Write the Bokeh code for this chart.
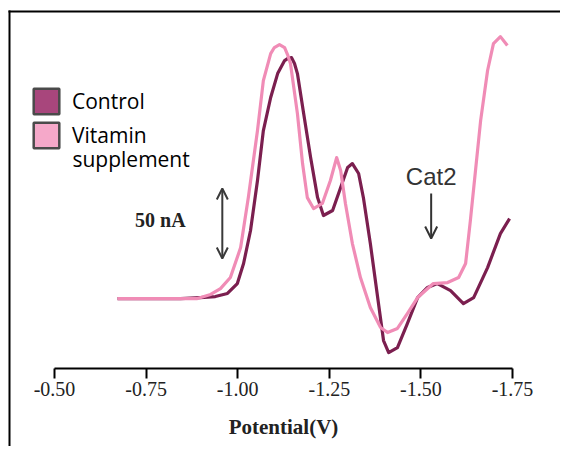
from bokeh.plotting import figure
from bokeh.models import (Range1d, LinearAxis, FixedTicker, PrintfTickFormatter,
                          Legend, LegendItem, Arrow, OpenHead, ColumnDataSource,
                          BoxAnnotation, Label)
from bokeh.core.properties import value
from bokeh.embed import file_html
from bokeh.resources import INLINE

# ---- data (potential in V, current in nA, baseline = 0) ----
control_v = [-0.672, -0.762, -0.844, -0.898, -0.939, -0.972, -0.999, -1.016, -1.035,
             -1.054, -1.070, -1.090, -1.109, -1.128, -1.136, -1.147, -1.155, -1.163,
             -1.180, -1.199, -1.218, -1.234, -1.259, -1.281, -1.300, -1.313, -1.330,
             -1.343, -1.362, -1.382, -1.398, -1.412, -1.436, -1.463, -1.491, -1.518,
             -1.545, -1.581, -1.616, -1.644, -1.682, -1.717, -1.742]
control_i = [0.0, 0.0, 0.0, 0.7, 1.4, 3.6, 10.7, 25.0, 48.6,
             84.3, 120.0, 143.6, 160.7, 170.0, 171.4, 172.1, 167.9, 160.7,
             132.1, 100.7, 72.1, 59.3, 62.9, 79.3, 93.6, 96.4, 89.3,
             72.1, 39.3, 0.7, -30.0, -38.6, -35.0, -17.9, 0.7, 7.9,
             10.7, 5.7, -3.6, 0.7, 22.1, 46.4, 57.1]

vitamin_v = [-0.672, -0.762, -0.844, -0.890, -0.926, -0.953, -0.980, -1.008, -1.029,
             -1.054, -1.070, -1.090, -1.100, -1.114, -1.128, -1.136, -1.144, -1.163,
             -1.177, -1.190, -1.207, -1.231, -1.253, -1.270, -1.281, -1.294, -1.313,
             -1.335, -1.362, -1.390, -1.409, -1.436, -1.463, -1.491, -1.534, -1.573,
             -1.603, -1.622, -1.635, -1.649, -1.663, -1.682, -1.698, -1.717, -1.736]
vitamin_i = [0.0, 0.0, 0.0, 0.0, 2.9, 7.1, 15.0, 36.4, 72.1,
             120.0, 155.7, 175.0, 179.3, 181.4, 179.3, 174.3, 167.9, 132.1,
             96.4, 72.1, 64.3, 67.9, 84.3, 100.7, 91.4, 67.9, 39.3,
             15.0, -6.4, -20.7, -24.3, -21.4, -10.7, 0.7, 10.7, 11.4,
             15.0, 25.0, 55.7, 91.4, 127.1, 162.9, 182.1, 187.1, 180.7]

tick_values = [-0.50, -0.75, -1.00, -1.25, -1.50, -1.75]
series_names = ["Control", "Vitamin", "supplement"]
scale_bar_x = -0.958
scale_bar_i = [28.6, 78.6]   # 50 nA
cat2_x = -1.528
cat2_i = [75.0, 42.9]
axis_i = -50.0

W, H = 560, 446
p = figure(width=W, height=H, output_backend="svg", toolbar_location=None,
           x_range=Range1d(-0.3526, -1.881), y_range=Range1d(-105.7, 212.9),
           x_axis_type=None, y_axis_type=None, title=None,
           min_border_left=0, min_border_right=0, min_border_top=0, min_border_bottom=0)
p.outline_line_color = None
p.background_fill_color = "white"
p.border_fill_color = "white"

# left and top edges of the original box
p.add_layout(BoxAnnotation(left=8, right=10, top=10, bottom=H,
                           left_units="canvas", right_units="canvas",
                           top_units="canvas", bottom_units="canvas",
                           fill_color="black", fill_alpha=1, line_color=None, level="overlay"))
p.add_layout(BoxAnnotation(left=8, right=W, top=10, bottom=12,
                           left_units="canvas", right_units="canvas",
                           top_units="canvas", bottom_units="canvas",
                           fill_color="black", fill_alpha=1, line_color=None, level="overlay"))

ax = LinearAxis(ticker=FixedTicker(ticks=tick_values),
                formatter=PrintfTickFormatter(format="%.2f"),
                bounds=(-1.75, -0.5), axis_label="Potential(V)",
                fixed_location=axis_i)
ax.axis_line_width = 2
ax.axis_line_color = "black"
ax.major_tick_line_width = 2
ax.major_tick_in = 0
ax.major_tick_out = 10
ax.minor_tick_line_color = None
ax.major_label_text_font = "Liberation Serif"
ax.major_label_text_font_size = "20px"
ax.major_label_text_color = "#222222"
ax.major_label_standoff = 3
ax.axis_label_text_font = "Liberation Serif"
ax.axis_label_text_font_style = "bold"
ax.axis_label_text_font_size = "21px"
ax.axis_label_text_color = "#222222"
ax.axis_label_standoff = 16
p.add_layout(ax, "below")

p.line(control_v, control_i, line_color="#7b1f4f", line_width=3.2, line_join="round")
p.line(vitamin_v, vitamin_i, line_color="#f08cb6", line_width=3.2, line_join="round")

# legend swatches (placeholder rows, nothing plotted)
nan = float("nan")
sw_src = ColumnDataSource(data=dict(l=[nan], r=[nan], t=[nan], b=[nan]))
sw1 = p.quad(left="l", right="r", top="t", bottom="b", source=sw_src,
             fill_color="#a8467c", line_color="#4a4a4a", line_width=2.5)
sw2 = p.quad(left="l", right="r", top="t", bottom="b", source=sw_src,
             fill_color="#f5a8c9", line_color="#4a4a4a", line_width=2.5)
leg = Legend(items=[LegendItem(label=series_names[0], renderers=[sw1]),
                    LegendItem(label=series_names[1], renderers=[sw2])],
             location=(30, H - 152 + 1), orientation="vertical")
leg.glyph_width = 32
leg.glyph_height = 32
leg.padding = 0
leg.margin = 0
leg.spacing = 2
leg.label_standoff = 10
leg.border_line_color = None
leg.background_fill_alpha = 0
leg.label_text_font = "Open Sans"
leg.label_text_font_size = "21px"
leg.label_text_color = "black"
p.add_layout(leg, "center")
p.add_layout(Label(x=-0.549, y=100.0, text=series_names[2], text_align="left",
                   text_baseline="alphabetic", text_font="Open Sans",
                   text_font_size="21px", text_color="black"))

# 50 nA scale bar
p.add_layout(Arrow(start=OpenHead(size=11, line_width=2, line_color="#3a3a3a"),
                   end=OpenHead(size=11, line_width=2, line_color="#3a3a3a"),
                   x_start=scale_bar_x, y_start=scale_bar_i[0],
                   x_end=scale_bar_x, y_end=scale_bar_i[1],
                   line_width=2, line_color="#3a3a3a"))
p.text(x=[-0.789], y=[56.0], text=["50 nA"], text_align="center",
       text_baseline="alphabetic", text_font=value("Liberation Serif"),
       text_font_style="bold", text_font_size="20px", text_color="#222222")

# Cat2 marker
p.add_layout(Arrow(end=OpenHead(size=12, line_width=2, line_color="#333333"),
                   x_start=cat2_x, y_start=cat2_i[0],
                   x_end=cat2_x, y_end=cat2_i[1],
                   line_width=2, line_color="#333333"))
p.text(x=[cat2_x], y=[87.5], text=["Cat2"], text_align="center",
       text_baseline="alphabetic", text_font=value("Liberation Sans"),
       text_font_size="24px", text_color="#333333")

open("out.html", "w").write(file_html(p, INLINE))
